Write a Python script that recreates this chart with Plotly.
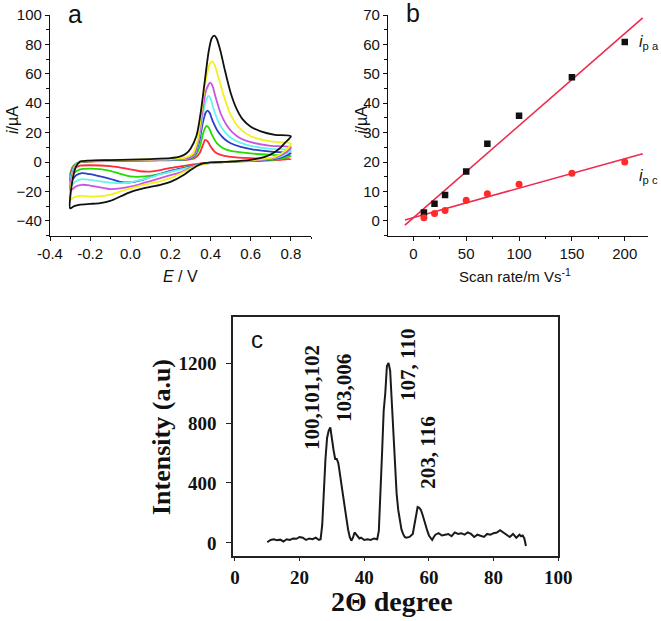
import numpy as np
import plotly.graph_objects as go

# ---------------- Panel a: cyclic voltammograms (E in V, i in uA) ----------------
red_E = [-0.3, -0.29, -0.27, -0.25, -0.2, -0.1, 0.0, 0.1, 0.2, 0.28, 0.32, 0.345, 0.36, 0.373, 0.385, 0.4, 0.42, 0.45, 0.5, 0.6, 0.7, 0.8,
         0.75, 0.7, 0.6, 0.5, 0.4, 0.35, 0.3, 0.25, 0.2, 0.15, 0.1, 0.05, 0.0, -0.05, -0.1, -0.2, -0.25, -0.28, -0.3]
red_I = [-9, -4, -1, -0.2, 0.3, 0.6, 0.8, 1.0, 1.2, 1.5, 2.5, 6, 11, 15, 14, 10.5, 7, 4.8, 3.5, 2.6, 2.2, 2.0,
         1.5, 1.1, 0.6, 0.2, -0.4, -1, -2, -3, -4, -5.5, -6.5, -6.3, -5, -3.8, -2.8, -2.2, -2.5, -4.5, -9]

green_E = [-0.3, -0.29, -0.27, -0.25, -0.2, -0.1, 0.0, 0.1, 0.2, 0.28, 0.32, 0.345, 0.36, 0.372, 0.38, 0.39, 0.405, 0.43, 0.46, 0.5, 0.6, 0.7, 0.8,
           0.77, 0.72, 0.65, 0.55, 0.45, 0.4, 0.35, 0.3, 0.25, 0.2, 0.15, 0.1, 0.05, 0.0, -0.05, -0.1, -0.15, -0.2, -0.25, -0.28, -0.3]
green_I = [-11.5, -5, -1.2, 0, 0.5, 0.8, 1.0, 1.2, 1.4, 1.8, 3.5, 10, 18, 23, 24.5, 23.5, 19, 13, 9.5, 7.5, 5.8, 4.8, 4.2,
           2.8, 1.6, 1.0, 0.5, -0.2, -0.6, -1.5, -3, -4.5, -6.5, -8, -9.3, -10, -9.8, -8, -6, -4.8, -4.5, -5, -7.5, -11.5]

blue_E = [-0.3, -0.29, -0.27, -0.25, -0.2, -0.1, 0.0, 0.1, 0.2, 0.28, 0.32, 0.345, 0.36, 0.375, 0.385, 0.395, 0.41, 0.44, 0.47, 0.5, 0.55, 0.6, 0.7, 0.8,
          0.77, 0.72, 0.65, 0.55, 0.45, 0.4, 0.35, 0.3, 0.25, 0.2, 0.15, 0.1, 0.05, 0.0, -0.05, -0.1, -0.15, -0.2, -0.24, -0.27, -0.3]
blue_I = [-14, -6, -1.5, 0, 0.6, 0.9, 1.1, 1.3, 1.6, 2.0, 4.5, 15, 26, 33.5, 35, 33.5, 28, 20, 15.5, 12.8, 10.3, 8.8, 7, 6,
          4, 2.2, 1.2, 0.6, -0.2, -0.6, -1.5, -3.2, -4.5, -6, -8, -10.3, -12.5, -13.9, -13.5, -11.5, -9.8, -8.3, -7.6, -9, -14]

cyan_E = [-0.3, -0.29, -0.27, -0.25, -0.2, -0.1, 0.0, 0.1, 0.2, 0.28, 0.32, 0.345, 0.36, 0.378, 0.389, 0.4, 0.415, 0.44, 0.47, 0.5, 0.55, 0.6, 0.7, 0.8,
          0.77, 0.72, 0.65, 0.55, 0.45, 0.4, 0.35, 0.3, 0.25, 0.2, 0.15, 0.1, 0.05, 0.0, -0.05, -0.1, -0.15, -0.2, -0.24, -0.27, -0.3]
cyan_I = [-16.6, -7, -1.5, 0.2, 0.7, 1.0, 1.2, 1.4, 1.7, 2.2, 5, 18, 31, 42, 45, 43, 36, 27, 20.5, 16.5, 13, 11, 9, 8,
          5, 2.6, 1.4, 0.6, -0.2, -0.6, -1.5, -3.5, -5, -6.5, -8.3, -10.5, -12.3, -13.8, -14.4, -14, -13.2, -12.2, -11.6, -13, -16.6]

magenta_E = [-0.3, -0.29, -0.27, -0.25, -0.2, -0.1, 0.0, 0.1, 0.2, 0.28, 0.32, 0.345, 0.36, 0.378, 0.398, 0.41, 0.425, 0.45, 0.48, 0.51, 0.55, 0.6, 0.7, 0.8,
             0.77, 0.72, 0.65, 0.55, 0.45, 0.4, 0.35, 0.3, 0.25, 0.2, 0.15, 0.1, 0.05, 0.0, -0.05, -0.1, -0.15, -0.2, -0.24, -0.27, -0.3]
magenta_I = [-19.5, -9, -2, 0.3, 0.8, 1.1, 1.3, 1.5, 1.8, 2.4, 5.5, 20, 35, 49, 54, 51.5, 44, 33, 25, 20, 16, 13.5, 11, 10,
             6, 3, 1.5, 0.7, -0.2, -0.7, -1.8, -4, -7, -9, -11, -13, -15, -16.8, -18, -18.4, -17.2, -16, -15.5, -16.5, -19.5]

yellow_E = [-0.3, -0.29, -0.27, -0.25, -0.2, -0.1, 0.0, 0.1, 0.2, 0.27, 0.31, 0.335, 0.355, 0.375, 0.395, 0.408, 0.42, 0.44, 0.47, 0.5, 0.54, 0.6, 0.7, 0.8,
            0.77, 0.72, 0.65, 0.55, 0.45, 0.4, 0.35, 0.3, 0.27, 0.2, 0.15, 0.1, 0.05, 0.0, -0.05, -0.1, -0.15, -0.2, -0.25, -0.28, -0.3]
yellow_I = [-25.7, -12, -2.5, 0.3, 0.9, 1.2, 1.4, 1.7, 2.0, 2.8, 5.5, 15, 35, 55, 66.5, 68.5, 66, 57, 43, 32, 23.5, 17.5, 14, 12.5,
            7.5, 3.5, 1.8, 0.8, -0.1, -0.6, -2, -4.5, -6.5, -11, -13, -14.5, -16, -18, -20, -22.2, -23.3, -23.5, -23, -24, -25.7]

black_E = [-0.3, -0.29, -0.27, -0.25, -0.2, -0.1, 0.0, 0.1, 0.2, 0.25, 0.28, 0.3, 0.33, 0.35, 0.37, 0.39, 0.405, 0.418, 0.43, 0.45, 0.47, 0.5, 0.53, 0.56, 0.6, 0.65, 0.72, 0.8,
           0.77, 0.75, 0.71, 0.67, 0.6, 0.5, 0.4, 0.35, 0.3, 0.27, 0.2, 0.15, 0.1, 0.05, 0.0, -0.05, -0.1, -0.15, -0.2, -0.25, -0.28, -0.3]
black_I = [-31.5, -14, -3, 0.3, 1.0, 1.3, 1.6, 2.0, 2.6, 3.8, 6, 9, 18, 33, 54, 75, 84, 86, 84, 75, 63, 47, 36, 29, 24, 20.8, 18.5, 17.5,
           13, 10, 6, 3.5, 1.5, 0.3, -0.3, -1.5, -5.5, -8.5, -13.5, -15.5, -17, -18.5, -20.5, -23.5, -26.5, -28, -28.5, -29, -30, -31.5]

cv_names = ["red", "green", "blue", "cyan", "magenta", "yellow", "black"]
cv_colors = ["#ff2a3a", "#22dd00", "#2a3fcc", "#66f5ee", "#cc55dd", "#f2f21a", "#111111"]

# ---------------- Panel b: peak currents vs scan rate ----------------
scan_rate = [10, 20, 30, 50, 70, 100, 150, 200]
ipa = [2.8, 5.8, 8.8, 16.8, 26.2, 35.7, 48.8, 60.8]
ipc = [1.0, 2.5, 3.5, 7.0, 9.2, 12.4, 16.2, 20.0]
fit_x_range = [-8, 217]

# ---------------- Panel c: XRD pattern ----------------
two_theta = [10, 11, 12, 13, 14, 15, 16, 17, 18, 19, 20, 21, 22, 23, 24, 25, 26, 26.5,
             27, 27.5, 28, 28.5, 29, 29.5, 30, 30.5, 31, 31.5, 32, 32.5, 33, 33.5, 34, 34.5, 35, 35.5, 36, 36.5,
             37, 37.5, 38, 38.5, 39, 40, 41, 42, 43, 44, 44.5, 45, 45.5, 46, 46.5, 47, 47.5, 48, 48.5, 49, 49.5,
             50, 50.5, 51, 51.5, 52, 52.5, 53, 54, 55, 55.5, 56, 56.5, 57, 57.5, 58, 58.5, 59, 59.5, 60, 60.5,
             61, 61.5, 62, 63, 64, 65, 66, 67, 68, 69, 70, 71, 72, 73, 74, 75, 76, 77, 78, 79, 80, 81, 82, 83,
             84, 85, 86, 87, 88, 88.5, 89, 89.5, 90]
intensity = [5, 20, 25, 18, 22, 10, 25, 20, 30, 28, 40, 35, 20, 30, 25, 35, 20, 25,
             120, 400, 560, 700, 750, 770, 680, 620, 560, 560, 530, 450, 380, 320, 240, 160, 90, 40, 15, 35,
             70, 55, 40, 30, 35, 20, 25, 20, 30, 25, 80, 300, 600, 880, 1000, 1180, 1200, 1150, 950, 700, 480,
             330, 220, 140, 90, 60, 40, 35, 40, 60, 120, 200, 240, 235, 220, 190, 150, 110, 80, 50, 30,
             20, 40, 55, 65, 50, 55, 60, 45, 70, 60, 65, 55, 70, 60, 40, 55, 50, 40, 60, 55, 65, 70, 85, 70,
             55, 40, 60, 35, 55, 45, 50, 30, -20]

xrd_labels = ["100,101,102", "103,006", "107, 110", "203, 116"]
xrd_label_pos_x = [23.8, 33.7, 53.5, 59.6]
xrd_label_pos_y = [973, 1033, 1187, 600]

W, H = 661, 621


def px(x):
    return x / W


def py(y):
    return 1 - y / H


fig = go.Figure()

cv_data = {
    "red": (red_E, red_I), "green": (green_E, green_I), "blue": (blue_E, blue_I),
    "cyan": (cyan_E, cyan_I), "magenta": (magenta_E, magenta_I),
    "yellow": (yellow_E, yellow_I), "black": (black_E, black_I),
}
for name, col in zip(cv_names, cv_colors):
    E, I = cv_data[name]
    fig.add_trace(go.Scatter(x=E, y=I, mode="lines", line=dict(color=col, width=1.8, shape="spline", smoothing=0.7),
                             xaxis="x", yaxis="y", showlegend=False))

# panel b
sr = np.array(scan_rate, dtype=float)
pa = np.polyfit(sr, np.array(ipa), 1)
pc = np.polyfit(sr, np.array(ipc), 1)
fx = np.array(fit_x_range, dtype=float)
fig.add_trace(go.Scatter(x=fx, y=np.polyval(pa, fx), mode="lines", line=dict(color="#ee2a4d", width=1.6),
                         xaxis="x2", yaxis="y2", showlegend=False))
fig.add_trace(go.Scatter(x=fx, y=np.polyval(pc, fx), mode="lines", line=dict(color="#ee2a4d", width=1.6),
                         xaxis="x2", yaxis="y2", showlegend=False))
fig.add_trace(go.Scatter(x=scan_rate, y=ipa, mode="markers", marker=dict(symbol="square", size=6.5, color="#111111"),
                         xaxis="x2", yaxis="y2", showlegend=False))
fig.add_trace(go.Scatter(x=scan_rate, y=ipc, mode="markers", marker=dict(symbol="circle", size=7, color="#ff2a2a"),
                         xaxis="x2", yaxis="y2", showlegend=False))

# panel c
fig.add_trace(go.Scatter(x=two_theta, y=intensity, mode="lines", line=dict(color="#1a1a1a", width=2),
                         xaxis="x3", yaxis="y3", showlegend=False))

sans = "Liberation Sans, Arial, sans-serif"
serif = "Liberation Serif, Times New Roman, serif"

ax_common = dict(showgrid=False, zeroline=False, showline=True, linecolor="#111", linewidth=1.2,
                 ticks="outside", tickcolor="#111", ticklen=4, tickwidth=1.2, automargin=False,
                 ticklabeloverflow="allow",
                 tickfont=dict(family=sans, size=15, color="#111"))

fig.update_layout(
    template="none",
    width=W, height=H, margin=dict(l=0, r=0, t=0, b=0, pad=0), autosize=False,
    paper_bgcolor="white", plot_bgcolor="white",
    xaxis=dict(domain=[px(50), px(311)], range=[-0.4, 0.9], anchor="y", tickvals=[-0.4, -0.2, 0.0, 0.2, 0.4, 0.6, 0.8],
               ticktext=["-0.4", "-0.2", "0.0", "0.2", "0.4", "0.6", "0.8"],
               minor=dict(dtick=0.1, ticks="outside", ticklen=2.5, tickcolor="#111"), **ax_common),
    yaxis=dict(domain=[py(235.5), py(15)], range=[-50, 100], anchor="x", tickvals=[-40, -20, 0, 20, 40, 60, 80, 100],
               minor=dict(dtick=10, ticks="outside", ticklen=2.5, tickcolor="#111"), **ax_common),
    xaxis2=dict(domain=[px(388), px(648)], range=[-24, 222], anchor="y2", tickvals=[0, 50, 100, 150, 200],
                minor=dict(dtick=25, ticks="outside", ticklen=2.5, tickcolor="#111"), **ax_common),
    yaxis2=dict(domain=[py(235.5), py(15)], range=[-5, 70], anchor="x2", tickvals=[0, 10, 20, 30, 40, 50, 60, 70],
                minor=dict(dtick=5, ticks="outside", ticklen=2.5, tickcolor="#111"), **ax_common),
    xaxis3=dict(domain=[px(233.3), px(558.3)], range=[-0.5, 100], anchor="y3", tickvals=[0, 20, 40, 60, 80, 100],
                showgrid=False, zeroline=False, showline=True, mirror=True, linecolor="#222", linewidth=2,
                ticks="outside", ticklen=3, tickcolor="#222", automargin=False, ticklabeloverflow="allow",
                tickfont=dict(family=serif, size=19, color="#111", weight="bold")),
    yaxis3=dict(domain=[py(556), py(317)], range=[-87, 1507], anchor="x3", tickvals=[0, 400, 800, 1200],
                showgrid=False, zeroline=False, showline=True, mirror=True, linecolor="#222", linewidth=2,
                ticks="outside", ticklen=5, tickcolor="#222", automargin=False, ticklabeloverflow="allow",
                ticklabelstandoff=6,
                tickfont=dict(family=serif, size=19, color="#111", weight="bold")),
)


def pann(text, x, y, size, family=sans, angle=0, weight="normal"):
    return dict(text=text, x=px(x), y=py(y), xref="paper", yref="paper", xanchor="center", yanchor="middle",
                showarrow=False, textangle=angle, font=dict(family=family, size=size, color="#111", weight=weight))


ann = [
    pann("a", 75, 14, 25),
    pann("b", 413, 13, 25),
    pann("c", 257, 339, 24),
    pann("<i>i</i>/µA", 13, 120, 16, angle=-90),
    pann("<i>E</i> / V", 180, 276, 16),
    pann("<i>i</i>/µA", 362, 120, 16, angle=-90),
    pann("Scan rate/m Vs<sup>-1</sup>", 515, 275, 15),
    pann("Intensity (a.u)", 161, 437, 26, family=serif, angle=-90, weight="bold"),
    pann("2Θ degree", 392, 601, 28, family=serif, weight="bold"),
]
# ipa / ipc labels
ann.append(dict(text="<i>i</i><sub>p a</sub>", x=212, y=60.5, xref="x2", yref="y2", xanchor="left", yanchor="middle",
                showarrow=False, font=dict(family=sans, size=16, color="#111")))
ann.append(dict(text="<i>i</i><sub>p c</sub>", x=212, y=15, xref="x2", yref="y2", xanchor="left", yanchor="middle",
                showarrow=False, font=dict(family=sans, size=16, color="#111")))
for t, lx, ly in zip(xrd_labels, xrd_label_pos_x, xrd_label_pos_y):
    ann.append(dict(text=t, x=lx, y=ly, xref="x3", yref="y3", xanchor="center", yanchor="middle",
                    showarrow=False, textangle=-90,
                    font=dict(family=serif, size=21, color="#111", weight="bold")))

fig.update_layout(annotations=ann)
# remove the default 8px page margin so the figure fills the window exactly; hide the mode bar
fig.write_html("out.html", config={"displayModeBar": False},
               post_script="document.body.style.margin='0px';")
